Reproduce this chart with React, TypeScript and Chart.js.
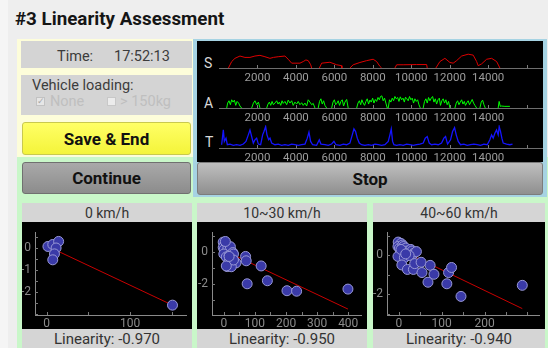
import React, { useEffect, useRef } from 'react';
import { Chart, registerables } from 'chart.js';

Chart.register(...registerables);

const FONT = 'Roboto, "Noto Sans", "DejaVu Sans", sans-serif';

const TITLE = '#3 Linearity Assessment';
const TIME_LABEL = 'Time:';
const TIME_VALUE = '17:52:13';
const LOADING_LABEL = 'Vehicle loading:';
const LOADING_OPTIONS = ['None', '> 150kg'];
const BTN_SAVE = 'Save & End';
const BTN_CONTINUE = 'Continue';
const BTN_STOP = 'Stop';

// ---- trace rows (time axis) ----
const TRACE_MIN = 0;
const TRACE_MAX = 16800;
const TRACE_TICKS = [2000, 4000, 6000, 8000, 10000, 12000, 14000, 16000];
const TRACE_LABELS = [2000, 4000, 6000, 8000, 10000, 12000, 14000];

const SPEED_T = [490, 660, 830, 1090, 1350, 1610, 1870, 2130, 2390, 2650, 2830, 3080, 3430, 3600, 3780, 4210, 4380, 4520, 4640, 4770, 4820, 4900,
  5220, 5340, 5770, 6120, 6380, 6390, 6500,
  6810, 6980, 7330, 7680, 8020, 8200, 8370, 8460, 8600,
  9150, 9240, 9580, 10280, 10800, 10830, 11000,
  11280, 11490, 11750, 12010, 12180, 12360, 12620, 12960, 13220, 13400, 13480, 13660, 13920, 14180, 14440, 14610];
const SPEED_V = [0, 28, 42, 52, 46, 46, 52, 55, 49, 42, 46, 49, 52, 38, 21, 21, 28, 35, 32, 14, 0, null,
  0, 21, 25, 14, 10, 0, null,
  0, 14, 24, 32, 38, 28, 7, 0, null,
  0, 14, 14, 15, 15, 0, null,
  0, 28, 42, 24, 21, 32, 52, 60, 56, 28, 10, 18, 38, 42, 28, 0];

const ACC_T = [400, 450, 520, 590, 660, 730, 800, 870, 940, 1020, 1090, 1180, 1300,
  1700, 1790, 1870, 1960, 2050, 2130, 2300,
  2480, 2550, 2620, 2690, 2760, 2830, 2910, 3000, 3070, 3140, 3210, 3280, 3340, 3430, 3520, 3600, 3690, 3780, 3860, 3950, 4040, 4120, 4210, 4300, 4380, 4470, 4560, 4640, 4730, 4820, 4900, 4990, 5080,
  5160, 5230, 5300, 5370, 5440, 5510, 5600, 5700,
  5860, 5930, 6000, 6070, 6140, 6200, 6270, 6340, 6410, 6480, 6550, 6640, 6720, 6900,
  7160, 7230, 7300, 7370, 7430, 7500, 7570, 7640, 7710, 7780, 7850, 7920, 7990, 8060, 8130, 8200, 8270, 8340, 8400, 8470, 8540, 8610, 8680, 8750,
  8800, 8870, 8940, 9010, 9080, 9150, 9220, 9290, 9360, 9430, 9500, 9570, 9640, 9700, 9770, 9840, 9910, 9980, 10050, 10120, 10190, 10260, 10330, 10400, 10470, 10550,
  10620, 10690, 10760, 10830, 10900, 10970, 11040, 11110, 11180, 11250, 11320, 11390, 11460, 11520, 11590, 11660, 11730, 11800, 11870, 11940, 12010, 12150,
  12270, 12340, 12410, 12480, 12550, 12620, 12690, 12760, 12820, 12890, 12960, 13030, 13100, 13170, 13240, 13310, 13400, 13500,
  13570, 13640, 13710, 13780, 13850, 14200,
  14520, 14570, 14630, 14680, 14870, 15130];
const ACC_V = [0, 1.5, 2.2, 1.0, 2.5, 1.8, 2.4, 0.8, 2.0, 1.5, 0.6, 0, null,
  0, 1.5, 2.2, 1.0, 1.8, 0, null,
  0, 1.2, 1.8, 0.8, 2.0, 1.0, 1.5, 2.2, 1.2, 1.8, 0.8, 2.2, 1.4, 2.0, 1.0, 2.4, 1.5, 2.2, 0.8, 1.8, 1.2, 2.0, 1.0, 1.6, 0.8, 1.5, 0.6, 2.5, 1.8, 1.0, 1.4, 0, null,
  0, 2.0, 2.8, 1.2, 2.2, 0.8, 0, null,
  0, 1.8, 2.5, 1.0, 1.5, 2.2, 0.8, 2.0, 2.5, 0.6, 1.8, 2.6, 0, null,
  0, 1.5, 2.2, 1.0, 2.5, 1.5, 0.8, 2.0, 2.8, 1.2, 2.4, 1.8, 3.0, 1.5, 2.6, 2.0, 3.2, 2.5, 3.5, 3.7, 2.2, 3.0, 1.5, 0,
  0, 2.5, 1.8, 3.0, 2.2, 3.5, 2.8, 3.2, 2.0, 3.4, 2.5, 3.0, 1.8, 3.3, 2.8, 2.2, 3.5, 2.5, 3.0, 1.5, 2.8, 2.0, 2.5, 1.0, 0, null,
  0, 2.0, 2.8, 1.5, 3.2, 2.2, 3.0, 3.5, 1.8, 2.8, 1.2, 2.5, 3.0, 0.8, 2.2, 2.8, 1.5, 2.5, 1.0, 2.0, 0, null,
  0, 1.5, 2.2, 1.0, 1.8, 2.5, 1.2, 2.0, 0.8, 1.6, 2.2, 1.0, 1.8, 2.6, 1.5, 0.8, 0, null,
  0, 1.8, 2.4, 1.0, 0, null,
  0, 2.0, 0.5, 0.6, 0.5, 0.5];

const THR_T = [138, 225, 277, 364, 433, 572, 745, 918, 1092, 1265, 1403, 1525, 1611, 1698, 1785, 1871, 1958, 2045, 2166, 2270, 2339, 2426, 2495, 2582, 2651, 2738,
  2911, 3084, 3258, 3431, 3604, 3778, 3951, 4124, 4298, 4471, 4592, 4679, 4765, 4869, 5077, 5216, 5303, 5511, 5684, 5857, 5979, 6083, 6291, 6464, 6637,
  6810, 6932, 7018, 7105, 7192, 7296, 7417, 7590, 7764, 7937, 8110, 8283, 8457, 8630, 8803, 8890, 8959, 9029, 9098, 9237, 9410, 9583, 9757, 9930, 10103,
  10276, 10450, 10623, 10727, 10831, 10935, 11056, 11230, 11403, 11576, 11697, 11784, 11888, 12044, 12148, 12252, 12339, 12443, 12564, 12737, 12911,
  13084, 13257, 13430, 13604, 13777, 13950, 14089, 14176, 14262, 14349, 14436, 14522, 14574, 14644, 14713, 14782, 14956, 15129, 15267];
const THR_V = [10, 55, 20, 30, 10, 12, 8, 10, 8, 12, 20, 40, 55, 35, 15, 25, 30, 12, 10, 40, 50, 65, 40, 25, 30, 15,
  10, 12, 8, 10, 8, 12, 10, 8, 10, 12, 30, 48, 20, 10, 8, 25, 12, 10, 8, 12, 20, 10, 8, 12, 10,
  15, 40, 58, 50, 30, 15, 10, 8, 10, 8, 12, 10, 8, 10, 20, 40, 58, 20, 10, 8, 10, 8, 12, 10, 8,
  10, 12, 15, 30, 35, 15, 10, 12, 10, 15, 30, 35, 12, 25, 50, 62, 40, 20, 10, 12, 8,
  10, 12, 10, 8, 12, 10, 25, 40, 30, 45, 55, 40, 65, 50, 30, 15, 12, 10, 12];

// ---- scatter panels ----
const P1_TITLE = '0 km/h';
const P1_RESULT = 'Linearity: -0.970';
const P1_X = [1.5, 7.3, 14.3, 11.3, 9.3, 7.3, 150.8];
const P1_Y = [0.07, 0.16, 0.3, 0.0, -0.27, -0.54, -2.61];
const P1_FIT_X = [1.5, 150.8];
const P1_FIT_Y = [0.07, -2.61];
const P1_X_TICKS = [0, 50, 100, 150];
const P1_Y_TICKS = [0.5, 0, -0.5, -1, -1.5, -2, -2.5, -3];
const P1_X_LABELS = [0, 100];
const P1_Y_LABELS = [0, -1, -2];

const P2_TITLE = '10~30 km/h';
const P2_RESULT = 'Linearity: -0.950';
const P2_X = [-2, 3, -2, 6, 1, 13, 21, 0, 8, 17, 24, 29, 31, 17, 24, 34, 39, 11, 24, 31, 8, 70, 72, 120, 75, 140, 203, 234, 399, 17, 5];
const P2_Y = [0.59, 0.44, 0.26, 0.04, 0.13, 0.22, 0.31, -0.15, -0.33, -0.24, -0.43, -0.06, -0.15, -0.61, -0.8, -0.7, -0.7, -0.93, -0.94, -0.52, -0.89, -0.3, -0.57, -0.89, -2.0, -1.81, -2.43, -2.46, -2.33, -0.3, 0.63];
const P2_FIT_X = [1, 399];
const P2_FIT_Y = [0.07, -3.57];
const P2_X_TICKS = [0, 50, 100, 150, 200, 250, 300, 350, 400];
const P2_Y_TICKS = [1, 0, -1, -2, -3];
const P2_X_LABELS = [0, 100, 200, 300, 400];
const P2_Y_LABELS = [0, -2];

const P3_TITLE = '40~60 km/h';
const P3_RESULT = 'Linearity: -0.940';
const P3_X = [-1.5, 5, -2, 1.5, 9, 13, 4, -2, 11, 16, 20, 28, 31, 35, 41, 13, 24, 7, 20, 34, 37, 52, 54, 73, 82, 68, 112, 116, 123, 145, 288, 5, 16];
const P3_Y = [0.69, 0.62, 0.46, 0.38, 0.54, 0.31, 0.15, -0.05, 0.46, 0.38, 0.23, 0.31, 0.23, 0.11, 0.2, -0.11, 0, -0.49, -0.72, -0.72, -0.42, -0.35, -0.88, -0.51, -0.97, -1.38, -1.46, -0.88, -0.62, -2.11, -1.54, 0.31, 0.08];
const P3_FIT_X = [1.5, 288];
const P3_FIT_Y = [0.31, -2.74];
const P3_X_TICKS = [0, 50, 100, 150, 200, 250, 300];
const P3_Y_TICKS = [1, 0, -1, -2, -3];
const P3_X_LABELS = [0, 100, 200];
const P3_Y_LABELS = [0, -2];

// short inward tick marks on every displayed scale
const innerTicks = {
  id: 'innerTicks',
  beforeDatasetsDraw(chart: any) {
    const ctx = chart.ctx;
    ctx.save();
    ctx.strokeStyle = '#7a7a7a';
    ctx.lineWidth = 1;
    Object.values(chart.scales).forEach((scale: any) => {
      if (!scale.options.display) return;
      scale.ticks.forEach((t: any) => {
        const p = Math.round(scale.getPixelForValue(t.value)) + 0.5;
        ctx.beginPath();
        if (scale.isHorizontal()) {
          ctx.moveTo(p, scale.top);
          ctx.lineTo(p, scale.top - 3);
        } else {
          ctx.moveTo(scale.right, p);
          ctx.lineTo(scale.right + 3, p);
        }
        ctx.stroke();
      });
    });
    ctx.restore();
  },
};

// tick labels of the time axis, written at the positions of the axis' own ticks
const timeLabels = {
  id: 'timeLabels',
  afterDraw(chart: any) {
    const ctx = chart.ctx;
    const scale = chart.scales.x;
    ctx.save();
    ctx.fillStyle = '#9d9d9d';
    ctx.font = '11.5px Roboto, sans-serif';
    ctx.textAlign = 'center';
    ctx.textBaseline = 'alphabetic';
    scale.ticks.forEach((t: any) => {
      if (!TRACE_LABELS.includes(t.value)) return;
      ctx.fillText(String(t.value), scale.getPixelForValue(t.value), scale.top + 12.6);
    });
    ctx.restore();
  },
};

function TraceRow(props: { top: number; times: number[]; values: (number | null)[]; color: string; yMax: number; width: number }) {
  const ref = useRef<HTMLCanvasElement>(null);
  useEffect(() => {
    const data = props.times.map((t, i) => ({ x: t, y: props.values[i] }));
    const chart = new Chart(ref.current as HTMLCanvasElement, {
      type: 'scatter',
      data: {
        datasets: [{ data: data as any, showLine: true, borderColor: props.color, borderWidth: props.width, pointRadius: 0, tension: 0, spanGaps: false }],
      },
      options: {
        animation: false,
        responsive: false,
        maintainAspectRatio: false,
        events: [],
        layout: { padding: { left: 22, right: 1, top: 4, bottom: 0 } },
        plugins: { legend: { display: false }, tooltip: { enabled: false } },
        scales: {
          x: {
            type: 'linear', position: 'bottom', min: TRACE_MIN, max: TRACE_MAX,
            grid: { display: false, drawTicks: false },
            border: { color: '#6e6e6e', width: 1 },
            ticks: { autoSkip: false, maxRotation: 0, display: false },
            afterBuildTicks: (s: any) => { s.ticks = TRACE_TICKS.map((v) => ({ value: v })); },
            afterFit: (s: any) => { s.height = 13; },
          },
          y: { display: false, min: 0, max: props.yMax },
        },
      },
      plugins: [innerTicks as any, timeLabels as any],
    });
    return () => chart.destroy();
  }, []);
  return <canvas ref={ref} width={346} height={40} style={{ display: 'block', position: 'absolute', left: 197, top: props.top, width: 346, height: 40 }} />;
}

function Scatter(props: {
  left: number; width: number; xs: number[]; ys: number[]; fx: number[]; fy: number[];
  xmin: number; xmax: number; ymin: number; ymax: number; xt: number[]; yt: number[];
  xl: number[]; yl: number[]; yw: number;
}) {
  const ref = useRef<HTMLCanvasElement>(null);
  useEffect(() => {
    const pts = props.xs.map((x, i) => ({ x, y: props.ys[i] }));
    const fit = props.fx.map((x, i) => ({ x, y: props.fy[i] }));
    const tickFont = { family: FONT, size: 12, lineHeight: 1 };
    const chart = new Chart(ref.current as HTMLCanvasElement, {
      type: 'scatter',
      data: {
        datasets: [
          { type: 'line', data: fit, borderColor: '#c80000', borderWidth: 1, pointRadius: 0, order: 2 } as any,
          { type: 'scatter', data: pts, pointRadius: 5, backgroundColor: '#3a3aa8', borderColor: '#9898d6', borderWidth: 1, order: 1 } as any,
        ],
      },
      options: {
        animation: false,
        responsive: false,
        maintainAspectRatio: false,
        events: [],
        layout: { padding: 0 },
        plugins: { legend: { display: false }, tooltip: { enabled: false } },
        scales: {
          x: {
            type: 'linear', position: 'bottom', min: props.xmin, max: props.xmax,
            grid: { display: false, drawTicks: false },
            border: { color: '#8a8a8a', width: 1 },
            ticks: {
              autoSkip: false, maxRotation: 0, color: '#8c8c8c', font: tickFont, padding: 3,
              callback: (v: any) => (props.xl.includes(Number(v)) ? String(v) : ''),
            },
            afterBuildTicks: (s: any) => { s.ticks = props.xt.map((v) => ({ value: v })); },
            afterFit: (s: any) => { s.height = 14; },
          },
          y: {
            type: 'linear', position: 'left', min: props.ymin, max: props.ymax,
            grid: { display: false, drawTicks: false },
            border: { color: '#8a8a8a', width: 1 },
            ticks: {
              autoSkip: false, color: '#8c8c8c', font: tickFont, padding: 4,
              callback: (v: any) => (props.yl.includes(Number(v)) ? String(v) : ''),
            },
            afterBuildTicks: (s: any) => { s.ticks = props.yt.map((v) => ({ value: v })); },
            afterFit: (s: any) => { s.width = props.yw; },
          },
        },
      },
      plugins: [innerTicks as any],
    });
    return () => chart.destroy();
  }, []);
  return <canvas ref={ref} width={props.width} height={107} style={{ display: 'block', position: 'absolute', left: props.left, top: 222, width: props.width, height: 107 }} />;
}

function Box(props: { left: number; top: number; width: number; height: number; bg: string }) {
  return <div style={{ position: 'absolute', left: props.left, top: props.top, width: props.width, height: props.height, background: props.bg }} />;
}

function Btn(props: { left: number; top: number; width: number; height: number; bg: string; border: string; text: string }) {
  return (
    <div style={{
      position: 'absolute', left: props.left, top: props.top, width: props.width, height: props.height, boxSizing: 'border-box',
      background: props.bg, border: `1px solid ${props.border}`, borderRadius: 3, display: 'flex', alignItems: 'center',
      justifyContent: 'center', fontWeight: 700, fontSize: 17, color: '#111', whiteSpace: 'nowrap',
    }}>{props.text}</div>
  );
}

function Caption(props: { left: number; top: number; width: number; text: string; size: number }) {
  return (
    <div style={{
      position: 'absolute', left: props.left, top: props.top, width: props.width, height: 19, background: '#d5d5d5',
      display: 'flex', alignItems: 'center', justifyContent: 'center', fontSize: props.size, color: '#333', whiteSpace: 'nowrap',
    }}>{props.text}</div>
  );
}

export default function App() {
  return (
    <div style={{ position: 'fixed', left: 0, top: 0, width: 548, height: 348, overflow: 'hidden', background: '#eeeeee', fontFamily: FONT }}>
      <Box left={0} top={0} width={8} height={348} bg="#f5f5f5" />
      <div style={{ position: 'absolute', left: 15, top: 7.5, lineHeight: '22px', fontSize: 18.8, fontWeight: 700, color: '#151515', whiteSpace: 'nowrap' }}>{TITLE}</div>

      <Box left={17} top={39} width={176} height={118} bg="#fdfdda" />
      <Box left={17} top={157} width={531} height={191} bg="#c9f7c9" />

      <Box left={21} top={41} width={171} height={27} bg="#d4d4d4" />
      <span style={{ position: 'absolute', left: 57, top: 47.5, lineHeight: '17px', fontSize: 14.5, color: '#3c3c3c' }}>{TIME_LABEL}</span>
      <span style={{ position: 'absolute', left: 114, top: 47.5, lineHeight: '17px', fontSize: 14.5, color: '#3c3c3c' }}>{TIME_VALUE}</span>

      <Box left={21} top={75} width={171} height={40} bg="#d4d4d4" />
      <span style={{ position: 'absolute', left: 32, top: 76.5, lineHeight: '17px', fontSize: 14.5, color: '#3c3c3c', whiteSpace: 'nowrap' }}>{LOADING_LABEL}</span>
      <div style={{ position: 'absolute', left: 36, top: 97, width: 9, height: 9, boxSizing: 'border-box', background: '#e6e6e6', border: '1px solid #c2c2c2' }}>
        <span style={{ position: 'absolute', left: 0, top: -3, fontSize: 9, lineHeight: '12px', color: '#a8a8a8', fontFamily: '"DejaVu Sans"' }}>✓</span>
      </div>
      <span style={{ position: 'absolute', left: 50, top: 92.5, lineHeight: '17px', fontSize: 14.5, color: '#bfbfbf' }}>{LOADING_OPTIONS[0]}</span>
      <div style={{ position: 'absolute', left: 107, top: 97, width: 9, height: 9, boxSizing: 'border-box', background: '#ececec', border: '1px solid #c8c8c8' }} />
      <span style={{ position: 'absolute', left: 120, top: 92.5, lineHeight: '17px', fontSize: 14.5, color: '#bfbfbf', whiteSpace: 'nowrap' }}>{LOADING_OPTIONS[1]}</span>

      <Btn left={22} top={122} width={169} height={33} bg="linear-gradient(#ffff66, #f4f43a)" border="#c9c94e" text={BTN_SAVE} />
      <Btn left={22} top={162} width={169} height={32} bg="linear-gradient(#a9a9a9, #8c8c8c)" border="#707070" text={BTN_CONTINUE} />

      <Box left={193} top={39} width={354} height={158} bg="#a6d3e3" />
      <Box left={197} top={41} width={346} height={121} bg="#000000" />
      <span style={{ position: 'absolute', left: 204, top: 55, lineHeight: '17px', fontSize: 14, color: '#d8d8d8' }}>S</span>
      <span style={{ position: 'absolute', left: 204, top: 94.5, lineHeight: '17px', fontSize: 14, color: '#d8d8d8' }}>A</span>
      <span style={{ position: 'absolute', left: 205, top: 134, lineHeight: '17px', fontSize: 14, color: '#d8d8d8' }}>T</span>
      <TraceRow top={41} times={SPEED_T} values={SPEED_V} color="#dd0000" yMax={100} width={1} />
      <TraceRow top={81} times={ACC_T} values={ACC_V} color="#00ff00" yMax={7} width={1} />
      <TraceRow top={121} times={THR_T} values={THR_V} color="#1414ff" yMax={70} width={1.3} />
      <Btn left={197} top={162} width={346} height={33} bg="linear-gradient(#bfbfbf, #8f8f8f)" border="#7c7c7c" text={BTN_STOP} />

      <Caption left={22} top={203} width={170} text={P1_TITLE} size={14} />
      <Box left={22} top={222} width={170} height={107} bg="#000" />
      <Scatter left={22} width={170} xs={P1_X} ys={P1_Y} fx={P1_FIT_X} fy={P1_FIT_Y} xmin={-14} xmax={167} ymin={-3.06} ymax={0.73} xt={P1_X_TICKS} yt={P1_Y_TICKS} xl={P1_X_LABELS} yl={P1_Y_LABELS} yw={13} />
      <Caption left={22} top={329} width={170} text={P1_RESULT} size={15} />

      <Caption left={197} top={203} width={170} text={P2_TITLE} size={14} />
      <Box left={197} top={222} width={170} height={107} bg="#000" />
      <Scatter left={197} width={170} xs={P2_X} ys={P2_Y} fx={P2_FIT_X} fy={P2_FIT_Y} xmin={-38} xmax={441} ymin={-3.94} ymax={1.22} xt={P2_X_TICKS} yt={P2_Y_TICKS} xl={P2_X_LABELS} yl={P2_Y_LABELS} yw={15} />
      <Caption left={197} top={329} width={170} text={P2_RESULT} size={15} />

      <Caption left={373} top={203} width={172} text={P3_TITLE} size={14} />
      <Box left={373} top={222} width={172} height={107} bg="#000" />
      <Scatter left={373} width={172} xs={P3_X} ys={P3_Y} fx={P3_FIT_X} fy={P3_FIT_Y} xmin={-27.6} xmax={327} ymin={-3.07} ymax={1.21} xt={P3_X_TICKS} yt={P3_Y_TICKS} xl={P3_X_LABELS} yl={P3_Y_LABELS} yw={14} />
      <Caption left={373} top={329} width={172} text={P3_RESULT} size={15} />
    </div>
  );
}
